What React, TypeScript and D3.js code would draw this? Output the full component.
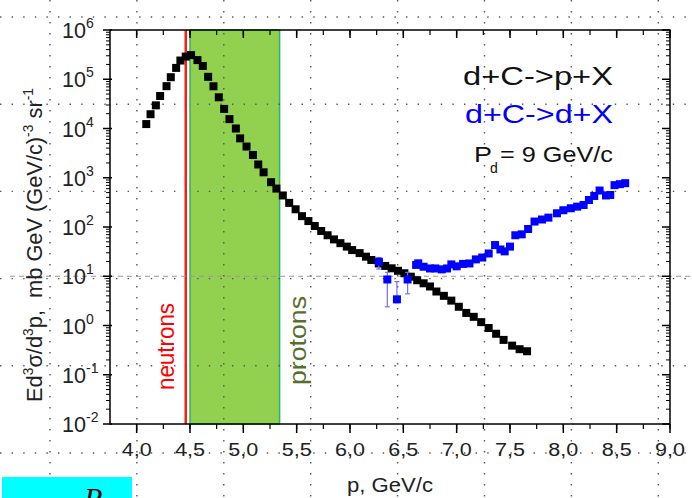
import React from "react"
import * as d3 from "d3"

// d+C->p+X (black squares)
const protonP = [
  4.09, 4.13, 4.18, 4.22, 4.28, 4.32, 4.37, 4.41, 4.46, 4.51, 4.57, 4.62, 4.67,
  4.72, 4.77, 4.82, 4.87, 4.93, 4.97, 5.03, 5.09, 5.14, 5.19, 5.26, 5.31, 5.37,
  5.43, 5.49, 5.55, 5.61, 5.67, 5.73, 5.79, 5.85, 5.91, 5.97, 6.02, 6.09, 6.15,
  6.2, 6.27, 6.33, 6.39, 6.45, 6.51, 6.57, 6.63, 6.69, 6.75, 6.81, 6.88, 6.95,
  7.02, 7.09, 7.16, 7.23, 7.3, 7.37, 7.44, 7.52, 7.59, 7.66
]
const protonY = [
  1.23e4, 1.95e4, 2.95e4, 4.57e4, 7.24e4, 1.1e5, 1.7e5, 2.4e5, 2.88e5, 3.09e5,
  2.45e5, 1.86e5, 1.12e5, 7.2e4, 4.3e4, 2.5e4, 1.55e4, 1.0e4, 6.3e3, 4.3e3,
  2.9e3, 1.86e3, 1.29e3, 813, 603, 437, 309, 229, 166, 132, 105, 83, 68, 56, 47,
  40, 34, 29.5, 25, 21.4, 18.2, 16.2, 14.5, 12.9, 11.5, 9.8, 8.3, 7.2, 6.2, 4.9,
  4.0, 3.2, 2.4, 1.8, 1.5, 1.17, 0.89, 0.68, 0.51, 0.39, 0.33, 0.3
]

// d+C->d+X (blue squares)
const deutP = [
  6.27, 6.35, 6.44, 6.54, 6.62, 6.64, 6.69, 6.75, 6.8, 6.86, 6.91, 6.95, 7.0,
  7.06, 7.12, 7.18, 7.24, 7.3, 7.36, 7.41, 7.45, 7.5, 7.55, 7.61, 7.67, 7.73,
  7.8, 7.86, 7.94, 8.0, 8.07, 8.13, 8.19, 8.24, 8.29, 8.34, 8.4, 8.44, 8.48,
  8.53, 8.58
]
const deutY = [
  19.7, 8.6, 3.4, 8.6, 17, 18.3, 15.6, 14.4, 14.4, 13.8, 14.4, 17.4, 15.9, 17.8,
  18.2, 22, 24, 29, 43, 35, 32, 40, 68, 71, 91, 129, 142, 155, 190, 219, 240,
  259, 280, 353, 427, 550, 437, 447, 708, 741, 776
]
// error bars of the first blue points
const errP = [6.27, 6.35, 6.44, 6.54]
const errLo = [14, 2.4, 2.9, 4.4]
const errHi = [24, 12, 7.8, 12]

const xTicks = [4.0, 4.5, 5.0, 5.5, 6.0, 6.5, 7.0, 7.5, 8.0, 8.5, 9.0]
const xTickLabels = ["4,0", "4,5", "5,0", "5,5", "6,0", "6,5", "7,0", "7,5", "8,0", "8,5", "9,0"]
const yExponents = [-2, -1, 0, 1, 2, 3, 4, 5, 6]

const neutronP = 4.46
const protonBand = [4.5, 5.34]

const font = "'Liberation Sans', Arial, sans-serif"

export default function App() {
  const totalW = 692
  const totalH = 498
  const margin = { top: 30, left: 110, right: 22, bottom: 74 }
  const w = totalW - margin.left - margin.right
  const h = totalH - margin.top - margin.bottom

  const x = d3.scaleLinear().domain([3.75, 9.0]).range([0, w])
  const y = d3.scaleLog().domain([1e-2, 1e6]).range([h, 0])

  const xMinor = d3.range(4.0, 9.01, 0.25)
  const yMinor: number[] = []
  for (let e = -2; e < 6; e++) {
    for (let m = 2; m <= 9; m++) yMinor.push(m * Math.pow(10, e))
  }

  const gridX = d3.range(50, totalW, 86.9)
  const gridY = d3.range(17, totalH, 87.2)
  const sq = 8

  return (
    <div style={{ position: "fixed", left: 0, top: 0 }}>
      <svg width={totalW} height={totalH} style={{ display: "block", background: "#fff" }}>
        <g transform={`translate(${margin.left},${margin.top})`}>
          {/* proton band and neutron line */}
          <rect
            x={x(protonBand[0])}
            y={0}
            width={x(protonBand[1]) - x(protonBand[0])}
            height={h}
            fill="#92d050"
            stroke="#2fb36a"
            strokeWidth={1.5}
          />
          <line x1={x(neutronP)} x2={x(neutronP)} y1={0} y2={h} stroke="#ff1a1a" strokeWidth={2.5} />
        </g>

        {/* page dot grid */}
        {gridX.map((gx, i) => (
          <line key={`gx-${i}`} x1={gx} x2={gx} y1={0} y2={totalH} stroke="#555" strokeWidth={1.4} strokeDasharray="1.4,9.6" />
        ))}
        {gridY.map((gy, i) => (
          <line key={`gy-${i}`} x1={0} x2={totalW} y1={gy} y2={gy} stroke="#555" strokeWidth={1.4} strokeDasharray="1.4,10.2" />
        ))}
        <line x1={10} x2={totalW} y1={margin.top + y(10)} y2={margin.top + y(10)} stroke="#999" strokeWidth={1} strokeDasharray="5,4" />

        <g transform={`translate(${margin.left},${margin.top})`}>
          {/* frame */}
          <rect x={0} y={0} width={w} height={h} fill="none" stroke="#000" strokeWidth={1.5} />

          {/* x ticks */}
          {xMinor.map((v, i) => (
            <g key={`xm-${i}`}>
              <line x1={x(v)} x2={x(v)} y1={h} y2={h + 5} stroke="#000" strokeWidth={1.2} />
              <line x1={x(v)} x2={x(v)} y1={0} y2={5} stroke="#000" strokeWidth={1.2} />
            </g>
          ))}
          {xTicks.map((v, i) => (
            <g key={`xt-${i}`}>
              <line x1={x(v)} x2={x(v)} y1={h} y2={h + 9} stroke="#000" strokeWidth={1.5} />
              <line x1={x(v)} x2={x(v)} y1={0} y2={8} stroke="#000" strokeWidth={1.5} />
              <text
                x={x(v)}
                y={h + 32}
                fontFamily={font}
                fontSize={18}
                fill="#222"
                textAnchor="middle"
                textLength={30}
                lengthAdjust="spacingAndGlyphs"
              >
                {xTickLabels[i]}
              </text>
            </g>
          ))}

          {/* y ticks */}
          {yMinor.map((v, i) => (
            <g key={`ym-${i}`}>
              <line x1={-4} x2={0} y1={y(v)} y2={y(v)} stroke="#000" strokeWidth={1} />
              <line x1={w - 4} x2={w} y1={y(v)} y2={y(v)} stroke="#000" strokeWidth={1} />
            </g>
          ))}
          {yExponents.map((e) => (
            <g key={`ye-${e}`}>
              <line x1={-7} x2={2} y1={y(Math.pow(10, e))} y2={y(Math.pow(10, e))} stroke="#000" strokeWidth={1.5} />
              <line x1={w - 8} x2={w} y1={y(Math.pow(10, e))} y2={y(Math.pow(10, e))} stroke="#000" strokeWidth={1.5} />
              <text
                x={-48}
                y={y(Math.pow(10, e)) + 8}
                fontFamily={font}
                fontSize={22}
                fill="#222"
                textLength={24}
                lengthAdjust="spacingAndGlyphs"
              >
                10
              </text>
              <text x={-24} y={y(Math.pow(10, e)) - 2} fontFamily={font} fontSize={14} fill="#222">
                {e}
              </text>
            </g>
          ))}

          {/* rotated region labels */}
          <text
            transform={`translate(${x(neutronP) - 12},${h - 34}) rotate(-90)`}
            fontFamily={font}
            fontSize={23}
            fill="#ff0000"
            textLength={87}
            lengthAdjust="spacingAndGlyphs"
          >
            neutrons
          </text>
          <text
            transform={`translate(${x(protonBand[1]) + 26},${h - 39}) rotate(-90)`}
            fontFamily={font}
            fontSize={23}
            fill="#55702a"
            textLength={89}
            lengthAdjust="spacingAndGlyphs"
          >
            protons
          </text>

          {/* d+C->p+X */}
          {protonP.map((p, i) => (
            <rect key={`p-${i}`} x={x(p) - sq / 2} y={y(protonY[i]) - sq / 2} width={sq} height={sq} fill="#000" />
          ))}

          {/* d+C->d+X error bars */}
          {errP.map((p, i) => (
            <g key={`e-${i}`} stroke="#7070ff" strokeWidth={1.2}>
              <line x1={x(p)} x2={x(p)} y1={y(errLo[i])} y2={y(errHi[i])} />
              <line x1={x(p) - 2.5} x2={x(p) + 2.5} y1={y(errLo[i])} y2={y(errLo[i])} />
              <line x1={x(p) - 2.5} x2={x(p) + 2.5} y1={y(errHi[i])} y2={y(errHi[i])} />
            </g>
          ))}
          {deutP.map((p, i) => (
            <rect key={`d-${i}`} x={x(p) - sq / 2} y={y(deutY[i]) - sq / 2} width={sq} height={sq} fill="#0000ff" />
          ))}
        </g>

        {/* legend */}
        <text x={463} y={85} fontFamily={font} fontSize={25} fill="#111" textLength={150} lengthAdjust="spacingAndGlyphs">
          d+C-&gt;p+X
        </text>
        <text x={465} y={123} fontFamily={font} fontSize={25} fill="#0000ff" textLength={148} lengthAdjust="spacingAndGlyphs">
          d+C-&gt;d+X
        </text>
        <text x={474} y={162} fontFamily={font} fontSize={22} fill="#111" textLength={18} lengthAdjust="spacingAndGlyphs">
          P
        </text>
        <text x={490} y={173} fontFamily={font} fontSize={14} fill="#111">
          d
        </text>
        <text x={500} y={162} fontFamily={font} fontSize={22} fill="#111" textLength={113} lengthAdjust="spacingAndGlyphs" style={{ whiteSpace: "pre" }}>
          = 9 GeV/c
        </text>

        {/* axis titles */}
        <text x={347} y={492} fontFamily={font} fontSize={20} fill="#222" textLength={86} lengthAdjust="spacingAndGlyphs">
          p, GeV/c
        </text>
        <text
          transform="translate(42,245) rotate(-90)"
          fontFamily={font}
          fontSize={22}
          fill="#222"
          textAnchor="middle"
          textLength={314}
          lengthAdjust="spacingAndGlyphs"
          style={{ whiteSpace: "pre" }}
        >
          <tspan>Ed</tspan>
          <tspan fontSize={14} dy={-9}>3</tspan>
          <tspan dy={9}>σ/d</tspan>
          <tspan fontSize={14} dy={-9}>3</tspan>
          <tspan dy={9}>{"p,  mb GeV (GeV/c)"}</tspan>
          <tspan fontSize={14} dy={-9}>-3</tspan>
          <tspan dy={9}>{" sr"}</tspan>
          <tspan fontSize={14} dy={-9}>-1</tspan>
        </text>

        {/* cropped slide fragment */}
        <rect x={2} y={477} width={130} height={21} fill="#00ffff" />
        <text x={84} y={508} fontFamily="'Liberation Serif', serif" fontStyle="italic" fontSize={30} fill="#000">
          P
        </text>
      </svg>
    </div>
  )
}
